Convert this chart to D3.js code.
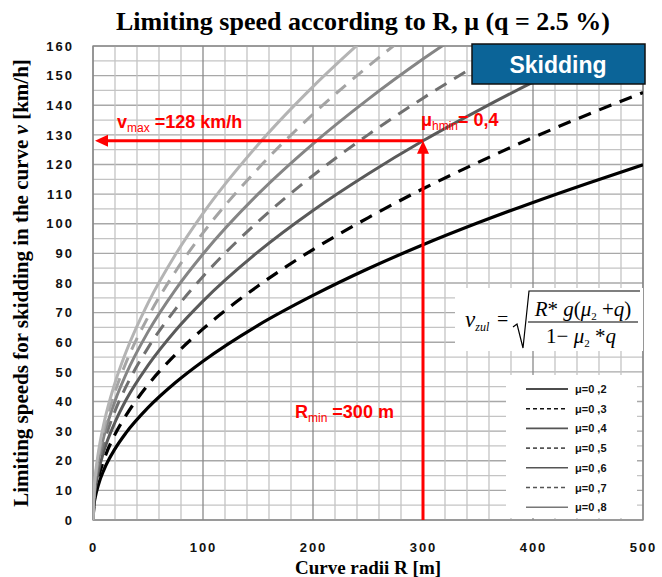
<!DOCTYPE html>
<html>
<head>
<meta charset="utf-8">
<script src="https://cdn.jsdelivr.net/npm/d3@7"></script>
<style>
  body { margin: 0; background: #fff; }
  svg { display: block; }
</style>
</head>
<body>
<svg id="chart" width="662" height="577"></svg>
<script>

const radii = [0, 1, 2, 5, 10, 20, 30, 50, 75, 100, 150, 200, 250, 300, 350, 400, 450, 500];

const mu02 = [0, 5.4, 7.6, 12.0, 17.0, 24.0, 29.4, 37.9, 46.4, 53.6, 65.7, 75.8, 84.8, 92.9, 100.3, 107.2, 113.7, 119.9];
const mu03 = [0, 6.5, 9.1, 14.4, 20.4, 28.9, 35.3, 45.6, 55.9, 64.5, 79.0, 91.3, 102.0, 111.8, 120.7, 129.1, 136.9, 144.3];
const mu04 = [0, 7.4, 10.4, 16.5, 23.4, 33.0, 40.5, 52.2, 64.0, 73.9, 90.5, 104.5, 116.8, 128.0, 138.2, 147.8, 156.7, 165.2];
const mu05 = [0, 8.2, 11.6, 18.4, 26.0, 36.8, 45.0, 58.1, 71.2, 82.2, 100.7, 116.3, 130.0, 142.4, 153.8, 164.4];
const mu06 = [0, 9.0, 12.7, 20.1, 28.4, 40.2, 49.2, 63.5, 77.8, 89.8, 110.0, 127.0, 142.0, 155.6, 168.0];
const mu07 = [0, 9.7, 13.7, 21.7, 30.6, 43.3, 53.1, 68.5, 83.9, 96.9, 118.6, 137.0, 153.1, 167.8];
const mu08 = [0, 10.3, 14.6, 23.1, 32.7, 46.3, 56.7, 73.2, 89.6, 103.5, 126.7, 146.3, 163.6];

const seriesLabels = ["μ=0 ,2", "μ=0 ,3", "μ=0 ,4", "μ=0 ,5", "μ=0 ,6", "μ=0 ,7", "μ=0 ,8"];
const seriesValues = [mu02, mu03, mu04, mu05, mu06, mu07, mu08];

const xTicks = [0, 100, 200, 300, 400, 500];
const yTicks = [0, 10, 20, 30, 40, 50, 60, 70, 80, 90, 100, 110, 120, 130, 140, 150, 160];

const rMin = 300;
const vMax = 128;

// }}} data //

// line styles {{{ //
const colors = ["#000000", "#000000", "#5a5a5a", "#707070", "#858585", "#a4a4a4", "#b4b4b4"];
const dashes = [null, "13,9", null, "13,9", null, "13,9", null];
// }}}

const svg = d3.select("#chart");
const margin = {top: 46, left: 93, right: 19, bottom: 57};
const width = 662 - margin.left - margin.right;
const height = 577 - margin.top - margin.bottom;

const x = d3.scaleLinear().domain([0, 500]).range([0, width]);
const y = d3.scaleLinear().domain([0, 160]).range([height, 0]);

const g = svg.append("g").attr("transform", `translate(${margin.left},${margin.top})`);

// grid {{{ //
g.append("g").selectAll("line")
  .data(d3.range(0, 161, 5))
  .enter().append("line")
  .attr("x1", 0).attr("x2", width)
  .attr("y1", d => y(d)).attr("y2", d => y(d))
  .attr("stroke", d => d % 10 === 0 ? "#a8a8a8" : "#c4c4c4")
  .attr("stroke-width", 1.3);

g.append("g").selectAll("line")
  .data(d3.range(0, 501, 20))
  .enter().append("line")
  .attr("y1", 0).attr("y2", height)
  .attr("x1", d => x(d)).attr("x2", d => x(d))
  .attr("stroke", d => d % 100 === 0 ? "#8a8a8a" : "#c4c4c4")
  .attr("stroke-width", 1.3);

g.append("rect")
  .attr("width", width).attr("height", height)
  .attr("fill", "none").attr("stroke", "#888").attr("stroke-width", 1.3);
// }}}

// curves {{{ //
svg.append("defs").append("clipPath").attr("id", "plotclip")
  .append("rect").attr("width", width).attr("height", height);

const line = d3.line()
  .x((d, i) => x(radii[i]))
  .y(d => y(d))
  .curve(d3.curveMonotoneX);

g.append("g").attr("clip-path", "url(#plotclip)")
  .selectAll("path")
  .data(seriesValues)
  .enter().append("path")
  .attr("d", d => line(d))
  .attr("fill", "none")
  .attr("stroke", (d, i) => colors[i])
  .attr("stroke-width", (d, i) => i < 2 ? 3.2 : 3)
  .attr("stroke-dasharray", (d, i) => dashes[i]);
// }}}

// axes {{{ //
const tickFont = sel => sel
  .attr("font-family", "Liberation Sans, Arial, sans-serif")
  .attr("font-weight", "bold")
  .attr("font-size", 13)
  .attr("letter-spacing", "2px")
  .attr("fill", "#111");

const yAxis = g.append("g")
  .call(d3.axisLeft(y).tickValues(yTicks).tickSize(0).tickPadding(19));
yAxis.select(".domain").remove();
yAxis.selectAll("text").call(tickFont);

const xAxis = g.append("g")
  .attr("transform", `translate(0,${height})`)
  .call(d3.axisBottom(x).tickValues(xTicks).tickSize(0).tickPadding(23));
xAxis.select(".domain").remove();
xAxis.selectAll("text").call(tickFont);
// }}}

// titles {{{ //
svg.append("text")
  .attr("x", 363).attr("y", 30)
  .attr("text-anchor", "middle")
  .attr("font-family", "Liberation Serif, Times New Roman, serif")
  .attr("font-weight", "bold")
  .attr("font-size", 26)
  .text("Limiting speed according to R, μ (q = 2.5 %)");

svg.append("text")
  .attr("x", 368).attr("y", 574)
  .attr("text-anchor", "middle")
  .attr("font-family", "Liberation Serif, Times New Roman, serif")
  .attr("font-weight", "bold")
  .attr("font-size", 19)
  .text("Curve radii R [m]");

const yTitle = svg.append("text")
  .attr("transform", "translate(28,283) rotate(-90)")
  .attr("text-anchor", "middle")
  .attr("font-family", "Liberation Serif, Times New Roman, serif")
  .attr("font-weight", "bold")
  .attr("font-size", 21);
yTitle.append("tspan").text("Limiting speeds for skidding in the curve ");
yTitle.append("tspan").attr("font-style", "italic").text("v");
yTitle.append("tspan").text(" [km/h]");
// }}}

// red annotation {{{ //
const red = "#ff0000";
g.append("line")
  .attr("x1", x(rMin)).attr("x2", x(0) + 12)
  .attr("y1", y(vMax)).attr("y2", y(vMax))
  .attr("stroke", red).attr("stroke-width", 3);
g.append("path")
  .attr("d", `M${x(0) + 2},${y(vMax)} l13,-6 l0,12 z`)
  .attr("fill", red);
g.append("line")
  .attr("x1", x(rMin)).attr("x2", x(rMin))
  .attr("y1", y(0)).attr("y2", y(vMax) + 12)
  .attr("stroke", red).attr("stroke-width", 3);
g.append("path")
  .attr("d", `M${x(rMin)},${y(vMax)} l-6,13 l12,0 z`)
  .attr("fill", red);

function redLabel(px, py, main, sub, rest) {
  const t = svg.append("text")
    .attr("x", px).attr("y", py)
    .attr("font-family", "Liberation Sans, Arial, sans-serif")
    .attr("font-size", 18)
    .attr("fill", red);
  t.append("tspan").attr("font-weight", "bold").text(main);
  t.append("tspan").attr("font-size", 12).attr("dy", 4).text(sub);
  t.append("tspan").attr("font-weight", "bold").attr("dy", -4).text(rest);
}
redLabel(117, 128, "v", "max", " =128 km/h");
redLabel(421, 126, "μ", "hmin", "= 0,4");
redLabel(295, 418, "R", "min", " =300 m");
// }}}

// formula box {{{ //
svg.append("rect")
  .attr("x", 455).attr("y", 288).attr("width", 188).attr("height", 63)
  .attr("fill", "#fff");
const serif = "Liberation Serif, Times New Roman, serif";
const fv = svg.append("text").attr("x", 465).attr("y", 327)
  .attr("font-family", serif).attr("font-size", 23).attr("font-style", "italic");
fv.append("tspan").text("v");
fv.append("tspan").attr("font-size", 12).attr("dy", 4).text("zul");
svg.append("text").attr("x", 497).attr("y", 326)
  .attr("font-family", serif).attr("font-size", 20).text("=");
svg.append("path")
  .attr("d", "M513,327 l4,-3 l6,24 l6,-57 l111,0")
  .attr("fill", "none").attr("stroke", "#000").attr("stroke-width", 1.2);
svg.append("line")
  .attr("x1", 528).attr("x2", 638).attr("y1", 322).attr("y2", 322)
  .attr("stroke", "#000").attr("stroke-width", 1.2);
const num = svg.append("text").attr("x", 583).attr("y", 316).attr("text-anchor", "middle")
  .attr("font-family", serif).attr("font-size", 21);
num.append("tspan").attr("font-style", "italic").text("R");
num.append("tspan").text("* ");
num.append("tspan").attr("font-style", "italic").text("g");
num.append("tspan").text("(");
num.append("tspan").attr("font-style", "italic").text("μ");
num.append("tspan").attr("font-size", 11).attr("dy", 4).text("2");
num.append("tspan").attr("dy", -4).text(" +");
num.append("tspan").attr("font-style", "italic").text("q");
num.append("tspan").text(")");
const den = svg.append("text").attr("x", 581).attr("y", 343).attr("text-anchor", "middle")
  .attr("font-family", serif).attr("font-size", 21);
den.append("tspan").text("1− ");
den.append("tspan").attr("font-style", "italic").text("μ");
den.append("tspan").attr("font-size", 11).attr("dy", 4).text("2");
den.append("tspan").attr("dy", -4).text(" *");
den.append("tspan").attr("font-style", "italic").text("q");
// }}}

// legend {{{ //
svg.append("rect")
  .attr("x", 506).attr("y", 375).attr("width", 131).attr("height", 143)
  .attr("fill", "#fff");
const legend = svg.append("g").selectAll("g")
  .data(seriesLabels)
  .enter().append("g")
  .attr("transform", (d, i) => `translate(526,${389 + i * 19.7})`);
legend.append("line")
  .attr("x1", 0).attr("x2", 42).attr("y1", 0).attr("y2", 0)
  .attr("stroke", (d, i) => i < 2 ? "#111" : colors[i] === "#b4b4b4" ? "#777" : "#555")
  .attr("stroke-width", 1.6)
  .attr("stroke-dasharray", (d, i) => dashes[i] ? "4,3" : null);
legend.append("text")
  .attr("x", 49).attr("y", 4)
  .attr("font-family", "Liberation Sans, Arial, sans-serif")
  .attr("font-weight", "bold")
  .attr("font-size", 11)
  .attr("fill", "#111")
  .text(d => d);
// }}}

// skidding box {{{ //
svg.append("rect")
  .attr("x", 472).attr("y", 44).attr("width", 173).attr("height", 40)
  .attr("fill", "#0b6498").attr("stroke", "#111").attr("stroke-width", 1.5);
svg.append("text")
  .attr("x", 558).attr("y", 73)
  .attr("text-anchor", "middle")
  .attr("font-family", "Liberation Sans, Arial, sans-serif")
  .attr("font-weight", "bold")
  .attr("font-size", 23)
  .attr("fill", "#fff")
  .text("Skidding");
// }}}
</script>
</body>
</html>
